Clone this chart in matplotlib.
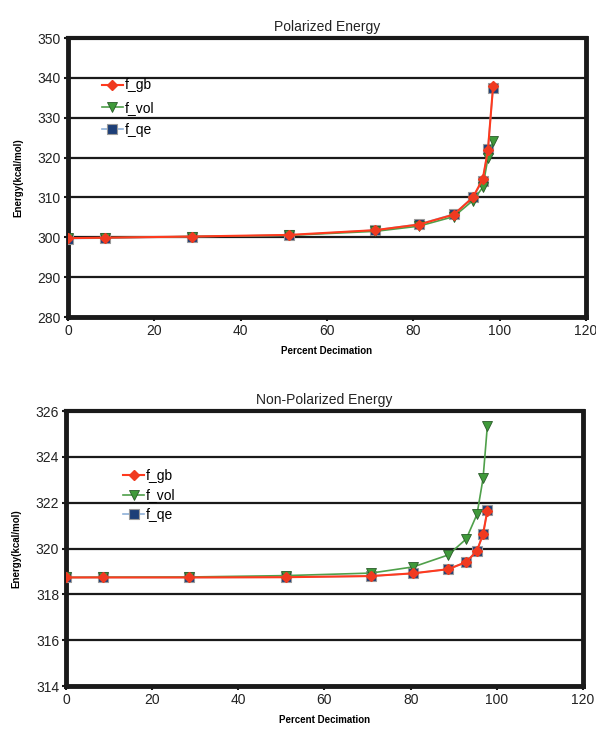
import matplotlib.pyplot as plt

plt.rcParams['font.family'] = ['Liberation Sans', 'DejaVu Sans']

# percent decimation for each mesh
x_pol = [0, 8.7, 28.7, 51.2, 71.2, 81.3, 89.4, 93.8, 96.1, 97.3, 98.5]
x_nonpol = [0, 8.7, 28.6, 51.0, 70.8, 80.6, 88.7, 92.9, 95.4, 96.8, 97.8]

# polarized energy (kcal/mol)
pol_gb = [299.8, 299.9, 300.2, 300.6, 301.8, 303.2, 305.7, 310.0, 314.6, 321.8, 337.9]
pol_vol = [299.8, 299.9, 300.2, 300.5, 301.5, 302.8, 305.2, 309.2, 312.5, 319.8, 324.2]
pol_qe = [299.7, 299.8, 300.2, 300.5, 301.8, 303.3, 305.8, 310.0, 314.2, 322.2, 337.5]

# non-polarized energy (kcal/mol)
np_gb = [318.74, 318.74, 318.74, 318.75, 318.80, 318.92, 319.10, 319.41, 319.91, 320.63, 321.65]
np_vol = [318.74, 318.75, 318.76, 318.82, 318.93, 319.20, 319.72, 320.42, 321.50, 323.06, 325.35]
np_qe = [318.74, 318.74, 318.74, 318.75, 318.80, 318.92, 319.10, 319.41, 319.91, 320.63, 321.68]

fig = plt.figure(figsize=(5.96, 7.33), dpi=100)
ax1 = fig.add_axes([0.114, 0.5675, 0.869, 0.3806])
ax2 = fig.add_axes([0.1107, 0.0641, 0.8675, 0.375])


def draw(ax, x, gb, vol, qe, title, ylim, ystep, leg_anchor, spacing):
    ax.plot(x, qe, color='#8fb0d8', lw=1.2, marker='s', ms=6.5,
            mfc='#1d3f78', mec='#9a9a9a', mew=0.8, label='f_qe', zorder=3)
    ax.plot(x, vol, color='#4fa04a', lw=1.2, marker='v', ms=7,
            mfc='#3f9a3a', mec='#2a5a2a', mew=0.6, label='f_vol', zorder=4)
    ax.plot(x, gb, color='#ff3a1e', lw=1.5, marker='D', ms=5,
            mfc='#f03a20', mec='#f03a20', label='f_gb', zorder=5)
    ax.set_xlim(0, 120)
    ax.set_ylim(*ylim)
    ax.set_xticks(range(0, 121, 20))
    yt = []
    v = ylim[0]
    while v <= ylim[1] + 1e-9:
        yt.append(v)
        v += ystep
    ax.set_yticks(yt)
    ax.yaxis.grid(True, color='#1a1a1a', lw=1.6)
    ax.set_axisbelow(True)
    for s in ax.spines.values():
        s.set_color('#1a1a1a')
        s.set_linewidth(3.5)
    ax.spines['top'].set_linewidth(3)
    ax.tick_params(direction='out', length=3, width=1.5, labelsize=10,
                   color='#1a1a1a', labelcolor='#222222', pad=2)
    ax.set_title(title, fontsize=10, color='#222222', pad=5)
    ax.set_xlabel('Percent Decimation', fontsize=7, fontweight='bold', labelpad=6)
    ax.set_ylabel('Energy(kcal/mol)', fontsize=7, fontweight='bold', labelpad=10)
    h, l = ax.get_legend_handles_labels()
    ax.legend(h[::-1], l[::-1], loc='upper left', bbox_to_anchor=leg_anchor,
              frameon=False, fontsize=10, handlelength=1.5, handletextpad=0.15,
              labelspacing=spacing, borderaxespad=0)


draw(ax1, x_pol, pol_gb, pol_vol, pol_qe, 'Polarized Energy', (280, 350), 10, (0.055, 0.875), 0.6)
draw(ax2, x_nonpol, np_gb, np_vol, np_qe, 'Non-Polarized Energy', (314, 326), 2, (0.1, 0.81), 0.4)

fig.savefig('out.png', dpi=100)
